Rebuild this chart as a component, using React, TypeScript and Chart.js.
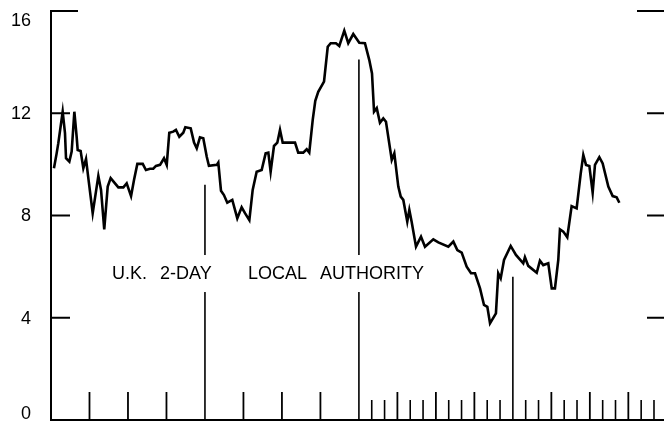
import React, { useEffect, useRef } from "react";
import { Chart, registerables } from "chart.js";

Chart.register(...registerables);

// Time axis in months from start of chart; value is % rate
const months = [
  0.23, 0.44, 0.57, 0.91, 1.09, 1.17, 1.43, 1.61, 1.82, 2.0, 2.08, 2.31, 2.52, 2.73, 2.91, 3.25, 3.69, 3.9, 4.15, 4.42,
  4.65, 5.25, 5.64, 5.9, 6.24, 6.47, 6.73, 7.15, 7.4, 7.72, 7.97, 8.18, 8.5, 8.81, 9.02, 9.22, 9.53, 9.74, 10.0, 10.31,
  10.47, 10.89, 11.15, 11.36, 11.61, 11.87, 12.14, 12.31, 12.92, 13.04, 13.25, 13.48, 13.74, 14.13, 14.52, 14.86, 15.12, 15.46, 15.72, 16.03,
  16.42, 16.73, 16.94, 17.12, 17.38, 17.64, 17.85, 18.06, 19.02, 19.27, 19.66, 19.93, 20.13, 20.4, 20.6, 20.83, 21.28, 21.57, 21.8, 22.21,
  22.47, 22.86, 23.17, 23.56, 24.03, 24.47, 24.81, 25.02, 25.18, 25.39, 25.64, 25.9, 26.11, 26.56, 26.76, 27.07, 27.26, 27.46, 27.77, 27.93,
  28.11, 28.45, 28.84, 29.15, 29.8, 30.19, 30.97, 31.36, 31.67, 32.01, 32.4, 32.74, 33.05, 33.44, 33.75, 34.01, 34.22, 34.68, 34.86, 35.05,
  35.31, 35.83, 36.24, 36.81, 36.94, 37.2, 37.86, 38.11, 38.37, 38.76, 39.03, 39.28, 39.54, 39.67, 39.93, 40.24, 40.58, 40.97, 41.29, 41.49,
  41.7, 41.96, 42.22, 42.4, 42.74, 43.0, 43.44, 43.78, 44.09, 44.3,
];
const rates = [
  9.85, 10.43, 10.83, 12.06, 11.22, 10.24, 10.11, 10.5, 12.06, 11.08, 10.56, 10.52, 9.85, 10.21, 9.46, 8.09, 9.55, 9.0, 7.46, 9.13,
  9.46, 9.1, 9.1, 9.26, 8.76, 9.39, 10.02, 10.02, 9.78, 9.83, 9.83, 9.94, 9.98, 10.24, 9.98, 11.24, 11.28, 11.35, 11.08, 11.24,
  11.45, 11.41, 10.85, 10.63, 11.06, 11.02, 10.3, 9.94, 9.98, 10.07, 8.97, 8.8, 8.5, 8.61, 7.89, 8.32, 8.09, 7.82, 9.0, 9.71,
  9.78, 10.43, 10.46, 9.71, 10.72, 10.85, 11.35, 10.85, 10.85, 10.46, 10.46, 10.59, 10.46, 11.74, 12.49, 12.84, 13.24, 14.6, 14.74, 14.74,
  14.63, 15.23, 14.74, 15.1, 14.76, 14.74, 14.08, 13.56, 12.06, 12.2, 11.63, 11.8, 11.67, 10.17, 10.43, 9.13, 8.74, 8.61, 7.76, 8.22,
  7.76, 6.78, 7.17, 6.78, 7.07, 6.95, 6.78, 6.98, 6.65, 6.55, 6.0, 5.74, 5.74, 5.15, 4.5, 4.43, 3.78, 4.17, 5.74, 5.54,
  6.26, 6.81, 6.46, 6.13, 6.37, 6.03, 5.76, 6.23, 6.06, 6.13, 5.15, 5.15, 6.26, 7.46, 7.37, 7.15, 8.37, 8.28, 9.65, 10.37,
  9.98, 9.94, 8.89, 9.98, 10.28, 10.04, 9.13, 8.76, 8.71, 8.5,
];

const yTicks = [0, 4, 8, 12, 16];
const yLabels = ["0", "4", "8", "12", "16"];
// bottom tick marks (months)
const tallTicks = [3, 6, 9, 15, 18, 21, 27, 30, 33, 39, 42, 45];
const shortTicks = [25, 26, 28, 29, 31, 32, 34, 35, 37, 38, 40, 41, 43, 44, 46, 47];
const yearTicks = [12, 24, 36];
const yearTickTops = [9.2, 14.1, 5.6];
const seriesTitle = ["U.K.", "2-DAY", "LOCAL", "AUTHORITY"];
const titleMonths = [4.75, 8.5, 15.35, 20.97];
const titleValue = 5.75;

const FONT = '18px "Liberation Sans", Arial, sans-serif';

const framePlugin = {
  id: "frame",
  beforeDatasetsDraw(chart: any) {
    const { ctx, chartArea } = chart;
    const x = chart.scales.x;
    const y = chart.scales.y;
    const x0 = x.getPixelForValue(0);
    const y0 = y.getPixelForValue(0);
    const seg = (a: number, b: number, c: number, d: number, w = 2) => {
      ctx.lineWidth = w;
      ctx.beginPath();
      ctx.moveTo(a, b);
      ctx.lineTo(c, d);
      ctx.stroke();
    };
    ctx.save();
    ctx.strokeStyle = "#000";
    ctx.lineCap = "butt";
    // axes
    seg(x0, y.getPixelForValue(16) - 1, x0, y0 + 1);
    seg(x0 - 1, y0, chartArea.right, y0);
    // y ticks (left and right)
    yTicks.forEach((v) => {
      if (v === 0) return;
      const py = y.getPixelForValue(v);
      const lenL = v === 16 ? 27 : 19;
      const lenR = v === 16 ? 27 : 17;
      seg(x0, py, x0 + lenL, py);
      seg(chartArea.right - lenR, py, chartArea.right, py);
    });
    // bottom ticks
    tallTicks.forEach((m) => {
      const px = x.getPixelForValue(m);
      seg(px, y0 - 28, px, y0, 1.8);
    });
    shortTicks.forEach((m) => {
      const px = x.getPixelForValue(m);
      seg(px, y0 - 20, px, y0, 1.6);
    });
    yearTicks.forEach((m, i) => {
      const px = x.getPixelForValue(m);
      seg(px, y.getPixelForValue(yearTickTops[i]), px, y0, 1.6);
    });
    // y labels
    ctx.fillStyle = "#000";
    ctx.font = FONT;
    ctx.textAlign = "right";
    ctx.textBaseline = "middle";
    yTicks.forEach((v, i) => {
      let py = y.getPixelForValue(v);
      py = Math.max(20, Math.min(413, py));
      ctx.fillText(yLabels[i], 31, py + 1);
    });
    // series title with white backing
    const ty = y.getPixelForValue(titleValue);
    const tx0 = x.getPixelForValue(titleMonths[0]);
    ctx.font = FONT;
    ctx.textAlign = "left";
    const lastW = ctx.measureText(seriesTitle[seriesTitle.length - 1]).width;
    const tx1 = x.getPixelForValue(titleMonths[titleMonths.length - 1]) + lastW;
    ctx.fillStyle = "#fff";
    ctx.fillRect(tx0 - 6, ty - 18, tx1 - tx0 + 12, 37);
    ctx.fillStyle = "#000";
    seriesTitle.forEach((w, i) => {
      ctx.fillText(w, x.getPixelForValue(titleMonths[i]), ty + 1);
    });
    ctx.restore();
  },
};

export default function App() {
  const ref = useRef<HTMLCanvasElement | null>(null);
  useEffect(() => {
    if (!ref.current) return;
    const points = months.map((m, i) => ({ x: m, y: rates[i] }));
    const chart = new Chart(ref.current, {
      type: "line",
      data: {
        datasets: [
          {
            data: points,
            borderColor: "#000",
            borderWidth: 2.6,
            pointRadius: 0,
            tension: 0,
            fill: false,
            borderJoinStyle: "miter",
          },
        ],
      },
      options: {
        responsive: false,
        animation: false,
        events: [],
        layout: { padding: { left: 51, right: 0, top: 11, bottom: 1 } },
        plugins: { legend: { display: false }, tooltip: { enabled: false } },
        scales: {
          x: { type: "linear", min: 0, max: 47.78, display: false },
          y: { type: "linear", min: 0, max: 16, display: false },
        },
      },
      plugins: [framePlugin],
    });
    return () => chart.destroy();
  }, []);
  return (
    <div style={{ position: "absolute", left: 0, top: 0, width: 664, height: 421, background: "#fff" }}>
      <canvas ref={ref} width={664} height={421} style={{ display: "block" }} />
    </div>
  );
}
